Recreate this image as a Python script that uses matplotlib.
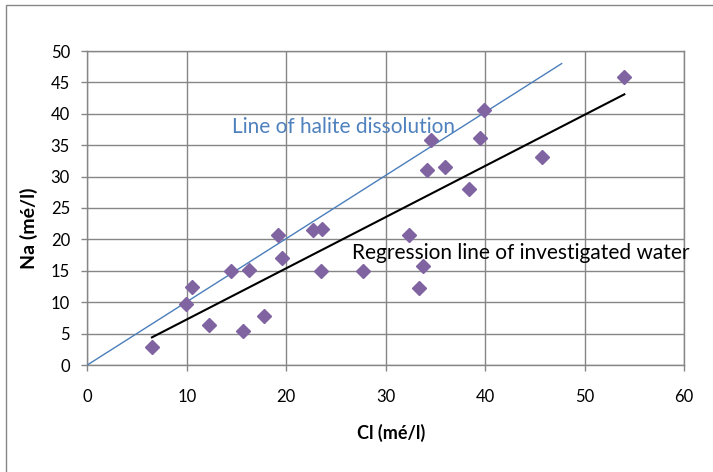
import matplotlib
matplotlib.use("Agg")
import matplotlib.pyplot as plt
from matplotlib.patches import Rectangle

# Data (Cl, Na in mé/l)
cl = [6.5, 9.9, 10.5, 12.2, 14.4, 15.7, 16.3, 17.8, 19.2, 19.6, 22.7, 23.6, 23.5,
      27.7, 32.3, 33.8, 33.4, 34.2, 34.6, 36.0, 38.4, 39.5, 39.9, 45.7, 54.0]
na = [2.9, 9.7, 12.5, 6.4, 14.9, 5.4, 15.2, 7.8, 20.7, 17.1, 21.5, 21.7, 14.9,
      14.9, 20.7, 15.7, 12.2, 31.0, 35.9, 31.5, 28.0, 36.2, 40.6, 33.2, 45.8]

halite_x = [0, 47.7]
halite_y = [0, 48.0]
reg_x = [6.5, 54.0]
reg_y = [4.4, 43.1]

x_ticks = [0, 10, 20, 30, 40, 50, 60]
y_ticks = [0, 5, 10, 15, 20, 25, 30, 35, 40, 45, 50]

halite_label = "Line of halite dissolution"
reg_label = "Regression line of investigated water"
x_label = "Cl (mé/l)"
y_label = "Na (mé/l)"

plt.rcParams['font.family'] = ['Lato', 'DejaVu Sans']

W, H = 713, 472
fig = plt.figure(figsize=(W / 100, H / 100), dpi=100)
grid_c = '#868686'

# outer chart border (left/top visible)
fig.patches.append(Rectangle((5.5 / W, -0.1), 1.2, (H - 4.7) / H + 0.1,
                             transform=fig.transFigure, fill=False,
                             edgecolor=grid_c, linewidth=1.0))

ax = fig.add_axes([87.3 / W, (H - 365) / H, (684 - 87.3) / W, (365 - 51) / H])
ax.set_xlim(0, 60)
ax.set_ylim(0, 50)
ax.set_xticks(x_ticks)
ax.set_yticks(y_ticks)
ax.grid(True, color=grid_c, linewidth=1.0)
ax.set_axisbelow(True)
for s in ax.spines.values():
    s.set_color(grid_c)
    s.set_linewidth(1.0)
ax.tick_params(axis='both', colors=grid_c, length=4.5, width=1.0,
               labelcolor='black', labelsize=12)
ax.tick_params(axis='x', pad=13)
ax.tick_params(axis='y', pad=8)

ax.plot(halite_x, halite_y, color='#4A7EBB', linewidth=1.0, zorder=3)
ax.plot(reg_x, reg_y, color='black', linewidth=1.5, zorder=3)
ax.plot(cl, na, linestyle='none', marker='D', markersize=7,
        color='#8064A2', zorder=4)

ax.text(14.5, 36.9, halite_label, color='#4F81BD', fontsize=15, va='baseline')
ax.text(26.6, 16.9, reg_label, color='black', fontsize=15, va='baseline')

fig.text(391 / W, (H - 433) / H, x_label, fontsize=13, fontweight='bold',
         ha='center', va='center')
fig.text(28.5 / W, (H - 228) / H, y_label, fontsize=14, fontweight='bold',
         ha='center', va='center', rotation=90)

fig.savefig('out.png', dpi=100)
